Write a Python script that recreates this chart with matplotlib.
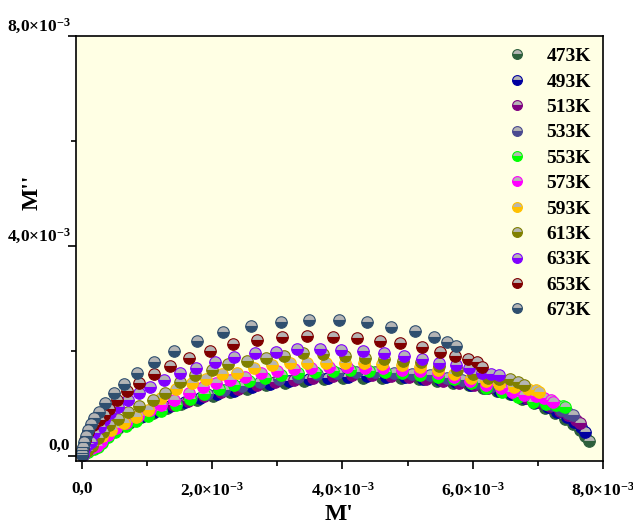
import matplotlib
matplotlib.use("Agg")
import matplotlib.pyplot as plt
from matplotlib.transforms import ScaledTranslation

# values, in units of 1e-3
SCALE = 1e-3

temps = ["473K", "493K", "513K", "533K", "553K", "573K", "593K", "613K", "633K", "653K", "673K"]
colors = ["#2D5F3C", "#0000A0", "#800080", "#4A4A90", "#00FF00", "#FF00FF",
          "#FFC000", "#808000", "#8000FF", "#800000", "#2F4F6F"]

m1_473 = [0.02, 0.10, 0.18, 0.28, 0.40, 0.55, 0.72, 0.90, 1.09, 1.30, 1.52, 1.76, 2.01, 2.27, 2.54, 2.82, 3.11,
          3.41, 3.71, 4.01, 4.31, 4.61, 4.90, 5.18, 5.45, 5.70, 5.94, 6.16, 6.37, 6.57, 6.76, 6.94, 7.11, 7.27,
          7.41, 7.54, 7.65, 7.73, 7.78]
m2_473 = [0.02, 0.12, 0.22, 0.32, 0.42, 0.52, 0.63, 0.73, 0.82, 0.91, 0.99, 1.07, 1.14, 1.21, 1.28, 1.34, 1.39,
          1.43, 1.46, 1.48, 1.49, 1.49, 1.48, 1.46, 1.43, 1.39, 1.35, 1.30, 1.24, 1.17, 1.09, 1.00, 0.91, 0.81,
          0.71, 0.60, 0.49, 0.38, 0.28]

m1_493 = [0.02, 0.11, 0.20, 0.31, 0.44, 0.59, 0.76, 0.94, 1.14, 1.35, 1.58, 1.82, 2.07, 2.34, 2.61, 2.89, 3.18,
          3.48, 3.78, 4.08, 4.38, 4.67, 4.96, 5.24, 5.50, 5.75, 5.98, 6.20, 6.41, 6.61, 6.80, 6.98, 7.15, 7.30,
          7.44, 7.56, 7.66, 7.72]
m2_493 = [0.03, 0.14, 0.25, 0.36, 0.46, 0.56, 0.66, 0.76, 0.85, 0.94, 1.02, 1.10, 1.17, 1.24, 1.31, 1.37, 1.42,
          1.46, 1.49, 1.51, 1.52, 1.51, 1.50, 1.47, 1.44, 1.40, 1.35, 1.30, 1.24, 1.17, 1.10, 1.02, 0.93, 0.84,
          0.74, 0.64, 0.54, 0.45]

m1_513 = [0.02, 0.12, 0.22, 0.34, 0.48, 0.63, 0.80, 0.98, 1.18, 1.40, 1.63, 1.87, 2.13, 2.40, 2.68, 2.96, 3.25,
          3.55, 3.85, 4.15, 4.45, 4.74, 5.02, 5.29, 5.55, 5.79, 6.02, 6.24, 6.45, 6.65, 6.84, 7.02, 7.19, 7.34,
          7.47, 7.58, 7.65]
m2_513 = [0.04, 0.16, 0.28, 0.39, 0.50, 0.60, 0.70, 0.79, 0.88, 0.97, 1.05, 1.13, 1.21, 1.28, 1.34, 1.40, 1.45,
          1.49, 1.52, 1.53, 1.53, 1.52, 1.50, 1.47, 1.43, 1.39, 1.35, 1.30, 1.24, 1.18, 1.11, 1.03, 0.95, 0.86,
          0.77, 0.69, 0.62]

m1_533 = [0.02, 0.13, 0.24, 0.36, 0.50, 0.66, 0.83, 1.02, 1.22, 1.44, 1.67, 1.92, 2.18, 2.45, 2.73, 3.02, 3.31,
          3.61, 3.91, 4.21, 4.50, 4.79, 5.07, 5.34, 5.60, 5.84, 6.07, 6.29, 6.50, 6.70, 6.89, 7.06, 7.22, 7.36,
          7.47, 7.54]
m2_533 = [0.05, 0.18, 0.30, 0.42, 0.53, 0.63, 0.73, 0.83, 0.92, 1.01, 1.10, 1.18, 1.26, 1.33, 1.40, 1.46, 1.51,
          1.55, 1.58, 1.59, 1.59, 1.58, 1.56, 1.53, 1.49, 1.44, 1.39, 1.33, 1.27, 1.20, 1.12, 1.04, 0.96, 0.88,
          0.82, 0.78]

m1_553 = [0.03, 0.10, 0.18, 0.24, 0.31, 0.40, 0.51, 0.67, 0.83, 1.01, 1.22, 1.45, 1.66, 1.88, 2.10, 2.33, 2.57,
          2.81, 3.06, 3.32, 3.58, 3.85, 4.12, 4.40, 4.66, 4.92, 5.19, 5.46, 5.72, 5.97, 6.20, 6.45, 6.69, 6.92,
          7.12, 7.28, 7.38, 7.42]
m2_553 = [0.03, 0.08, 0.12, 0.17, 0.24, 0.35, 0.46, 0.56, 0.66, 0.76, 0.86, 0.97, 1.08, 1.18, 1.27, 1.35, 1.42,
          1.48, 1.53, 1.57, 1.60, 1.62, 1.63, 1.62, 1.60, 1.57, 1.54, 1.50, 1.46, 1.39, 1.30, 1.21, 1.12, 1.03,
          0.98, 0.96, 0.94, 0.92]

m1_573 = [0.02, 0.08, 0.15, 0.23, 0.30, 0.40, 0.52, 0.68, 0.86, 1.04, 1.22, 1.42, 1.64, 1.86, 2.06, 2.28, 2.51,
          2.75, 3.00, 3.25, 3.51, 3.79, 4.07, 4.35, 4.62, 4.92, 5.19, 5.46, 5.71, 5.96, 6.20, 6.43, 6.61, 6.79,
          6.97, 7.10, 7.20, 7.24]
m2_573 = [0.03, 0.09, 0.14, 0.18, 0.27, 0.40, 0.52, 0.63, 0.75, 0.87, 0.97, 1.07, 1.20, 1.31, 1.39, 1.45, 1.51,
          1.58, 1.62, 1.65, 1.67, 1.69, 1.69, 1.68, 1.67, 1.64, 1.62, 1.58, 1.51, 1.43, 1.35, 1.29, 1.21, 1.16,
          1.13, 1.10, 1.06, 1.03]

m1_593 = [0.02, 0.06, 0.12, 0.20, 0.31, 0.44, 0.65, 0.83, 1.01, 1.22, 1.45, 1.69, 1.91, 2.15, 2.38, 2.64, 2.92,
          3.19, 3.46, 3.74, 4.04, 4.33, 4.61, 4.92, 5.19, 5.46, 5.71, 5.97, 6.20, 6.40, 6.64, 6.85, 6.97, 7.02]
m2_593 = [0.03, 0.15, 0.24, 0.30, 0.37, 0.49, 0.63, 0.74, 0.87, 1.10, 1.28, 1.38, 1.46, 1.56, 1.58, 1.68, 1.73,
          1.76, 1.76, 1.77, 1.77, 1.76, 1.75, 1.73, 1.70, 1.64, 1.56, 1.49, 1.43, 1.36, 1.32, 1.27, 1.25, 1.22]

m1_613 = [0.02, 0.08, 0.16, 0.24, 0.32, 0.42, 0.55, 0.70, 0.88, 1.09, 1.28, 1.51, 1.74, 2.00, 2.25, 2.53, 2.82,
          3.10, 3.40, 3.70, 4.04, 4.34, 4.64, 4.93, 5.20, 5.48, 5.76, 6.00, 6.23, 6.40, 6.57, 6.70, 6.78]
m2_613 = [0.03, 0.10, 0.19, 0.33, 0.46, 0.59, 0.71, 0.84, 0.94, 1.06, 1.19, 1.41, 1.54, 1.64, 1.74, 1.81, 1.86,
          1.90, 1.95, 1.94, 1.90, 1.87, 1.84, 1.80, 1.79, 1.71, 1.64, 1.55, 1.49, 1.47, 1.46, 1.40, 1.35]

m1_633 = [0.01, 0.04, 0.10, 0.14, 0.19, 0.27, 0.34, 0.43, 0.56, 0.70, 0.87, 1.05, 1.26, 1.50, 1.75, 2.04, 2.34,
          2.65, 2.98, 3.30, 3.65, 3.98, 4.31, 4.63, 4.94, 5.22, 5.48, 5.74, 5.95, 6.14, 6.28, 6.40]
m2_633 = [0.02, 0.15, 0.22, 0.27, 0.43, 0.55, 0.68, 0.81, 0.93, 1.06, 1.20, 1.31, 1.44, 1.58, 1.68, 1.79, 1.88,
          1.95, 1.98, 2.03, 2.04, 2.02, 2.00, 1.96, 1.91, 1.85, 1.77, 1.73, 1.67, 1.57, 1.55, 1.53]

m1_653 = [0.00, 0.02, 0.05, 0.10, 0.17, 0.26, 0.34, 0.42, 0.54, 0.69, 0.88, 1.11, 1.35, 1.65, 1.97, 2.32, 2.69,
          3.07, 3.46, 3.85, 4.23, 4.57, 4.89, 5.22, 5.49, 5.73, 5.92, 6.06, 6.14]
m2_653 = [0.01, 0.15, 0.30, 0.45, 0.58, 0.68, 0.78, 0.90, 1.06, 1.23, 1.39, 1.56, 1.71, 1.86, 2.00, 2.13, 2.21,
          2.27, 2.29, 2.27, 2.24, 2.18, 2.15, 2.07, 1.98, 1.91, 1.85, 1.78, 1.70]

m1_673 = [0.00, 0.00, 0.00, 0.01, 0.03, 0.06, 0.09, 0.14, 0.18, 0.26, 0.35, 0.49, 0.65, 0.85, 1.11, 1.42, 1.76,
          2.16, 2.60, 3.05, 3.49, 3.95, 4.38, 4.75, 5.11, 5.40, 5.61, 5.75]
m2_673 = [0.01, 0.06, 0.11, 0.17, 0.26, 0.38, 0.49, 0.60, 0.72, 0.84, 1.01, 1.20, 1.37, 1.58, 1.79, 2.00, 2.19,
          2.35, 2.48, 2.55, 2.58, 2.59, 2.54, 2.46, 2.37, 2.27, 2.16, 2.09]

series_m1 = [m1_473, m1_493, m1_513, m1_533, m1_553, m1_573, m1_593, m1_613, m1_633, m1_653, m1_673]
series_m2 = [m2_473, m2_493, m2_513, m2_533, m2_553, m2_573, m2_593, m2_613, m2_633, m2_653, m2_673]

x_ticks = [0, 2e-3, 4e-3, 6e-3, 8e-3]
x_tick_labels = ["0,0", r"2,0×10$^{-3}$", r"4,0×10$^{-3}$", r"6,0×10$^{-3}$", r"8,0×10$^{-3}$"]
y_ticks = [0, 4e-3, 8e-3]
y_tick_labels = ["0,0", r"4,0×10$^{-3}$", r"8,0×10$^{-3}$"]

plt.rcParams["font.family"] = "Liberation Serif"
plt.rcParams["font.weight"] = "bold"
plt.rcParams["mathtext.fontset"] = "custom"
plt.rcParams["mathtext.rm"] = "Liberation Serif:bold"
plt.rcParams["mathtext.default"] = "rm"

fig = plt.figure(figsize=(6.33, 5.27), dpi=100)
ax = fig.add_axes([0.120, 0.1252, 0.8326, 0.8065])
ax.set_facecolor("#FFFFE4")

for label, color, xs, ys in zip(temps, colors, series_m1, series_m2):
    ax.plot(
        [v * SCALE for v in xs],
        [v * SCALE for v in ys],
        linestyle="none",
        marker="o",
        markersize=8.3,
        fillstyle="bottom",
        markerfacecolor=color,
        markerfacecoloralt="#B5B5B5",
        markeredgecolor=color,
        markeredgewidth=0.8,
        label=label,
    )

ax.set_xlim(-0.092e-3, 8.0e-3)
ax.set_ylim(-0.1e-3, 8.0e-3)

ax.set_xticks(x_ticks, x_tick_labels)
ax.set_xticks([1e-3, 3e-3, 5e-3, 7e-3], minor=True)
ax.set_yticks(y_ticks, y_tick_labels)
ax.set_yticks([2e-3, 6e-3], minor=True)

ax.tick_params(axis="both", which="major", direction="out", length=6, width=1.2, labelsize=12.5)
ax.tick_params(axis="both", which="minor", direction="out", length=3.5, width=1.2)
ax.tick_params(axis="x", which="major", pad=8)
ax.tick_params(axis="y", which="major", pad=1)

# y tick labels sit above their ticks in the reference
shift = ScaledTranslation(0.04, 0.12, fig.dpi_scale_trans)
for lab in ax.get_yticklabels():
    lab.set_transform(lab.get_transform() + shift)

for spine in ax.spines.values():
    spine.set_linewidth(1.2)

ax.set_xlabel("M'", fontsize=17, fontweight="bold")
ax.set_ylabel("M''", fontsize=17, fontweight="bold")
ax.xaxis.set_label_coords(0.5, -0.102)
ax.yaxis.set_label_coords(-0.064, 0.633)

ax.legend(
    loc="upper left",
    bbox_to_anchor=(0.797, 1.0),
    frameon=False,
    fontsize=14,
    handlelength=1.0,
    handletextpad=1.0,
    labelspacing=0.4,
    markerscale=0.85,
    borderaxespad=0.2,
)

fig.savefig("out.png", dpi=100)
